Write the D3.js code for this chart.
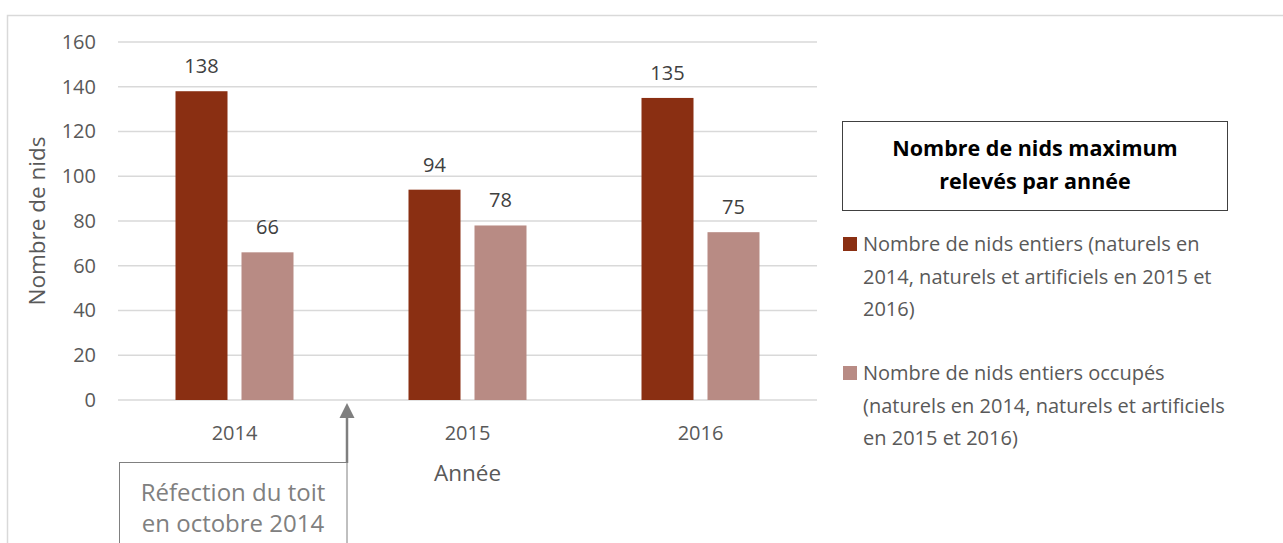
<!DOCTYPE html>
<html>
<head>
<meta charset="utf-8">
<script src="https://cdn.jsdelivr.net/npm/d3@7"></script>
<style>
  body { margin: 0; background: #fff; }
  svg { font-family: "Open Sans", sans-serif; }
</style>
</head>
<body>
<div id="chart"></div>
<script>
// data
const years = ["2014", "2015", "2016"];
const nidsEntiers = [138, 94, 135];
const nidsOccupes = [66, 78, 75];
const seriesNames = [
  "Nombre de nids entiers (naturels en 2014, naturels et artificiels en 2015 et 2016)",
  "Nombre de nids entiers occupés (naturels en 2014, naturels et artificiels en 2015 et 2016)"
];
const legendLines = [
  ["Nombre de nids entiers (naturels en", "2014, naturels et artificiels en 2015 et", "2016)"],
  ["Nombre de nids entiers occupés", "(naturels en 2014, naturels et artificiels", "en 2015 et 2016)"]
];
const yTicks = [0, 20, 40, 60, 80, 100, 120, 140, 160];
const colors = ["#8a2f12", "#b88b84"];

const W = 1283, H = 543;
const margin = {top: 42, right: 466, bottom: 143, left: 118};
const width = W - margin.left - margin.right;
const height = H - margin.top - margin.bottom;

const svg = d3.select("#chart").append("svg")
  .attr("width", W)
  .attr("height", H);

// outer chart frame
svg.append("rect")
  .attr("x", 7.5).attr("y", 15.5)
  .attr("width", W).attr("height", H)
  .attr("fill", "none")
  .attr("stroke", "#d9d9d9")
  .attr("stroke-width", 1.5);

const g = svg.append("g")
  .attr("transform", `translate(${margin.left},${margin.top})`);

const x = d3.scaleBand().domain(years).range([0, width]);
const y = d3.scaleLinear().domain([0, 160]).range([height, 0]);
const xInner = d3.scaleBand().domain([0, 1])
  .range([x.bandwidth() / 2 - 59, x.bandwidth() / 2 + 59])
  .paddingInner(0.212);

// gridlines
g.append("g")
  .selectAll("line")
  .data(yTicks)
  .join("line")
    .attr("x1", 0).attr("x2", width)
    .attr("y1", d => y(d)).attr("y2", d => y(d))
    .attr("stroke", "#d9d9d9")
    .attr("stroke-width", 1.5);

// y axis labels
const yAxis = g.append("g")
  .call(d3.axisLeft(y).tickValues(yTicks).tickSize(0).tickPadding(22));
yAxis.select(".domain").remove();
yAxis.selectAll("text")
  .attr("font-size", 20)
  .attr("fill", "#595959")
  .attr("font-family", "Open Sans");

// x axis labels
const xAxis = g.append("g")
  .attr("transform", `translate(0,${height})`)
  .call(d3.axisBottom(x).tickSize(0).tickPadding(26));
xAxis.select(".domain").remove();
xAxis.selectAll("text")
  .attr("font-size", 20)
  .attr("fill", "#595959")
  .attr("font-family", "Open Sans");

const series = [nidsEntiers, nidsOccupes];
series.forEach((vals, si) => {
  const grp = g.append("g");
  grp.selectAll("rect")
    .data(years)
    .join("rect")
      .attr("x", (d, i) => x(d) + xInner(si))
      .attr("y", (d, i) => y(vals[i]))
      .attr("width", xInner.bandwidth())
      .attr("height", (d, i) => height - y(vals[i]))
      .attr("fill", colors[si]);
  grp.selectAll("text")
    .data(years)
    .join("text")
      .attr("x", (d, i) => x(d) + xInner(si) + xInner.bandwidth() / 2)
      .attr("y", (d, i) => y(vals[i]) - 18)
      .attr("text-anchor", "middle")
      .attr("font-size", 20)
      .attr("fill", "#404040")
      .text((d, i) => vals[i]);
});

// axis titles
svg.append("text")
  .attr("transform", `translate(45,${margin.top + height / 2}) rotate(-90)`)
  .attr("text-anchor", "middle")
  .attr("font-size", 22.5)
  .attr("fill", "#595959")
  .text("Nombre de nids");

svg.append("text")
  .attr("x", margin.left + width / 2)
  .attr("y", 481)
  .attr("text-anchor", "middle")
  .attr("font-size", 22.5)
  .attr("fill", "#595959")
  .text("Année");

// annotation: roof repair
const annX = margin.left + x("2014") + x.bandwidth() - 4;
const boxL = margin.left + 1;
svg.append("rect")
  .attr("x", boxL + 0.5).attr("y", 462.5)
  .attr("width", annX - boxL - 0.5).attr("height", 120)
  .attr("fill", "#fff")
  .attr("stroke", "#808080")
  .attr("stroke-width", 1);
svg.append("line")
  .attr("x1", annX).attr("x2", annX)
  .attr("y1", 463).attr("y2", 416)
  .attr("stroke", "#7f7f7f")
  .attr("stroke-width", 2.5);
svg.append("path")
  .attr("d", `M${annX - 7.5},418 L${annX},403 L${annX + 7.5},418 Z`)
  .attr("fill", "#7f7f7f");
const annText = svg.append("text")
  .attr("text-anchor", "middle")
  .attr("font-size", 24)
  .attr("fill", "#808080");
["Réfection du toit", "en octobre 2014"].forEach((t, i) => {
  annText.append("tspan")
    .attr("x", (boxL + annX) / 2)
    .attr("y", 501 + i * 31)
    .text(t);
});

// legend title box
svg.append("rect")
  .attr("x", 842.5).attr("y", 121.5)
  .attr("width", 385).attr("height", 89)
  .attr("fill", "#fff")
  .attr("stroke", "#404040")
  .attr("stroke-width", 1);
const ttl = svg.append("text")
  .attr("text-anchor", "middle")
  .attr("font-size", 21.5)
  .attr("font-weight", "bold")
  .attr("fill", "#000");
["Nombre de nids maximum", "relevés par année"].forEach((t, i) => {
  ttl.append("tspan")
    .attr("x", 1035)
    .attr("y", 156 + i * 33)
    .text(t);
});

// legend entries
const leg = svg.append("g");
legendLines.forEach((lines, si) => {
  const base = 251 + si * 129;
  leg.append("rect")
    .attr("x", 843).attr("y", base - 14)
    .attr("width", 14).attr("height", 14)
    .attr("fill", colors[si])
    .append("title").text(seriesNames[si]);
  const t = leg.append("text")
    .attr("font-size", 20)
    .attr("fill", "#595959");
  lines.forEach((l, li) => {
    t.append("tspan")
      .attr("x", 863)
      .attr("y", base + li * 32.5)
      .text(l);
  });
});
</script>
</body>
</html>
